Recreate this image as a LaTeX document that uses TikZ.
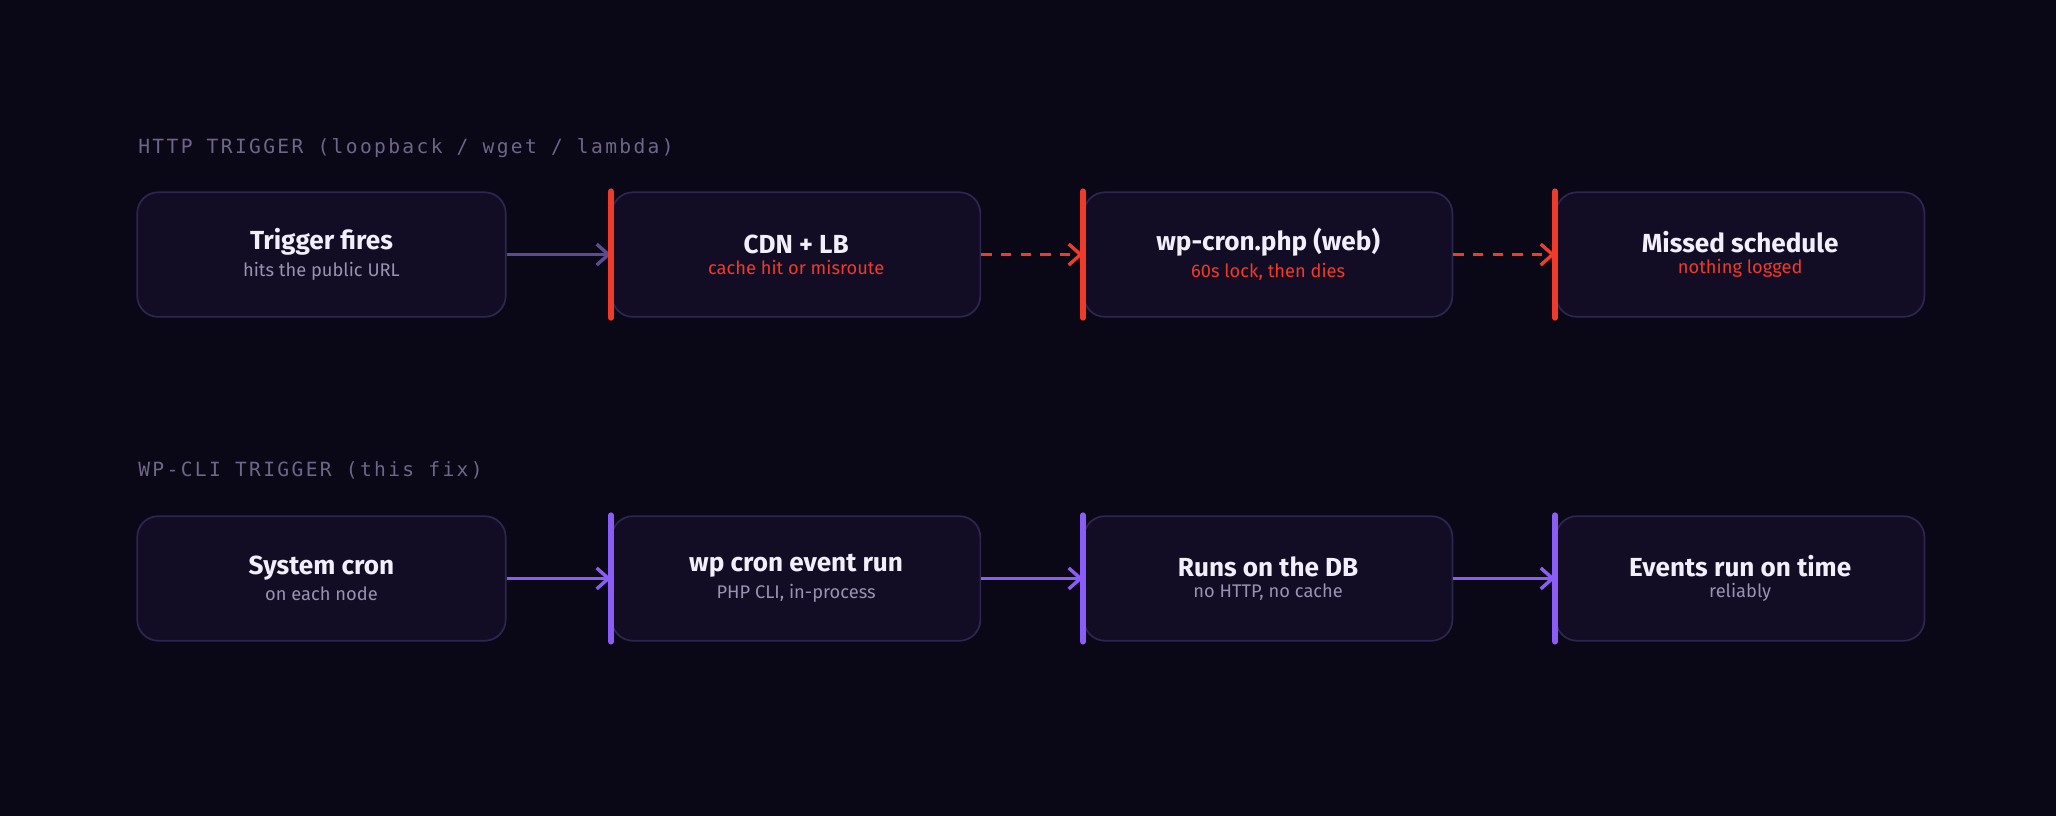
\documentclass[tikz,border=0pt]{standalone}
\usepackage{fontspec}
\setmainfont{Fira Sans}
\newfontfamily\labelfont[LetterSpace=12]{DejaVu Sans Mono}
\usetikzlibrary{arrows.meta}
\definecolor{bg}{HTML}{0A0716}
\definecolor{boxfill}{HTML}{120C24}
\definecolor{boxline}{HTML}{2E2650}
\definecolor{hot}{HTML}{F03A2A}
\definecolor{cool}{HTML}{8B5CF6}
\definecolor{dim}{HTML}{5B4A94}
\definecolor{sub}{HTML}{9A92B0}
\definecolor{head}{HTML}{F2EEFA}
\definecolor{cap}{HTML}{6E6688}
\tikzset{
  stage/.style={draw=boxline,line width=1.3bp,fill=boxfill,rounded corners=16bp,
    minimum width=281bp,minimum height=95bp,anchor=north west,align=center},
  bar/.style={line width=4.5bp,line cap=round},
  link/.style={line width=2.6bp,-{Straight Barb[length=9bp,width=16bp,line width=2.6bp]}},
}
\newcommand{\steptext}[3]{{\fontsize{20}{24}\selectfont\bfseries\color{head}#1}\\[4bp]{\fontsize{14}{17}\selectfont\color{#3}#2}}
\begin{document}
\begin{tikzpicture}[x=1bp,y=-1bp]
\fill[bg] (0,0) rectangle (1568,622);

% upper row
\node[anchor=west,text=cap,font=\labelfont\fontsize{15}{18}\selectfont] (caphttp) at (102,113) {HTTP TRIGGER (loopback / wget / lambda)};
\node[stage] (fire) at (104,146) {\steptext{Trigger fires}{hits the public URL}{sub}};
\node[stage] (cdn) at (466,146) {\steptext{CDN + LB}{cache hit or misroute}{hot}};
\node[stage] (web) at (826,146) {\steptext{wp-cron.php (web)}{60s lock, then dies}{hot}};
\node[stage] (miss) at (1186,146) {\steptext{Missed schedule}{nothing logged}{hot}};
\draw[link,dim] (fire) -- (cdn.west);
\draw[link,hot,dashed,dash pattern=on 8bp off 7bp] (cdn) -- (web.west);
\draw[link,hot,dashed,dash pattern=on 8bp off 7bp] (web) -- (miss.west);
\foreach \n in {cdn,web,miss}
  \draw[bar,hot] (\n.north west) -- (\n.south west);

% lower row
\node[anchor=west,text=cap,font=\labelfont\fontsize{15}{18}\selectfont] (capcli) at (102,359) {WP-CLI TRIGGER (this fix)};
\node[stage] (sys) at (104,393) {\steptext{System cron}{on each node}{sub}};
\node[stage] (cli) at (466,393) {\steptext{wp cron event run}{PHP CLI, in-process}{sub}};
\node[stage] (db) at (826,393) {\steptext{Runs on the DB}{no HTTP, no cache}{sub}};
\node[stage] (ok) at (1186,393) {\steptext{Events run on time}{reliably}{sub}};
\draw[link,cool] (sys) -- (cli.west);
\draw[link,cool] (cli) -- (db.west);
\draw[link,cool] (db) -- (ok.west);
\foreach \n in {cli,db,ok}
  \draw[bar,cool] (\n.north west) -- (\n.south west);
\end{tikzpicture}
\end{document}
